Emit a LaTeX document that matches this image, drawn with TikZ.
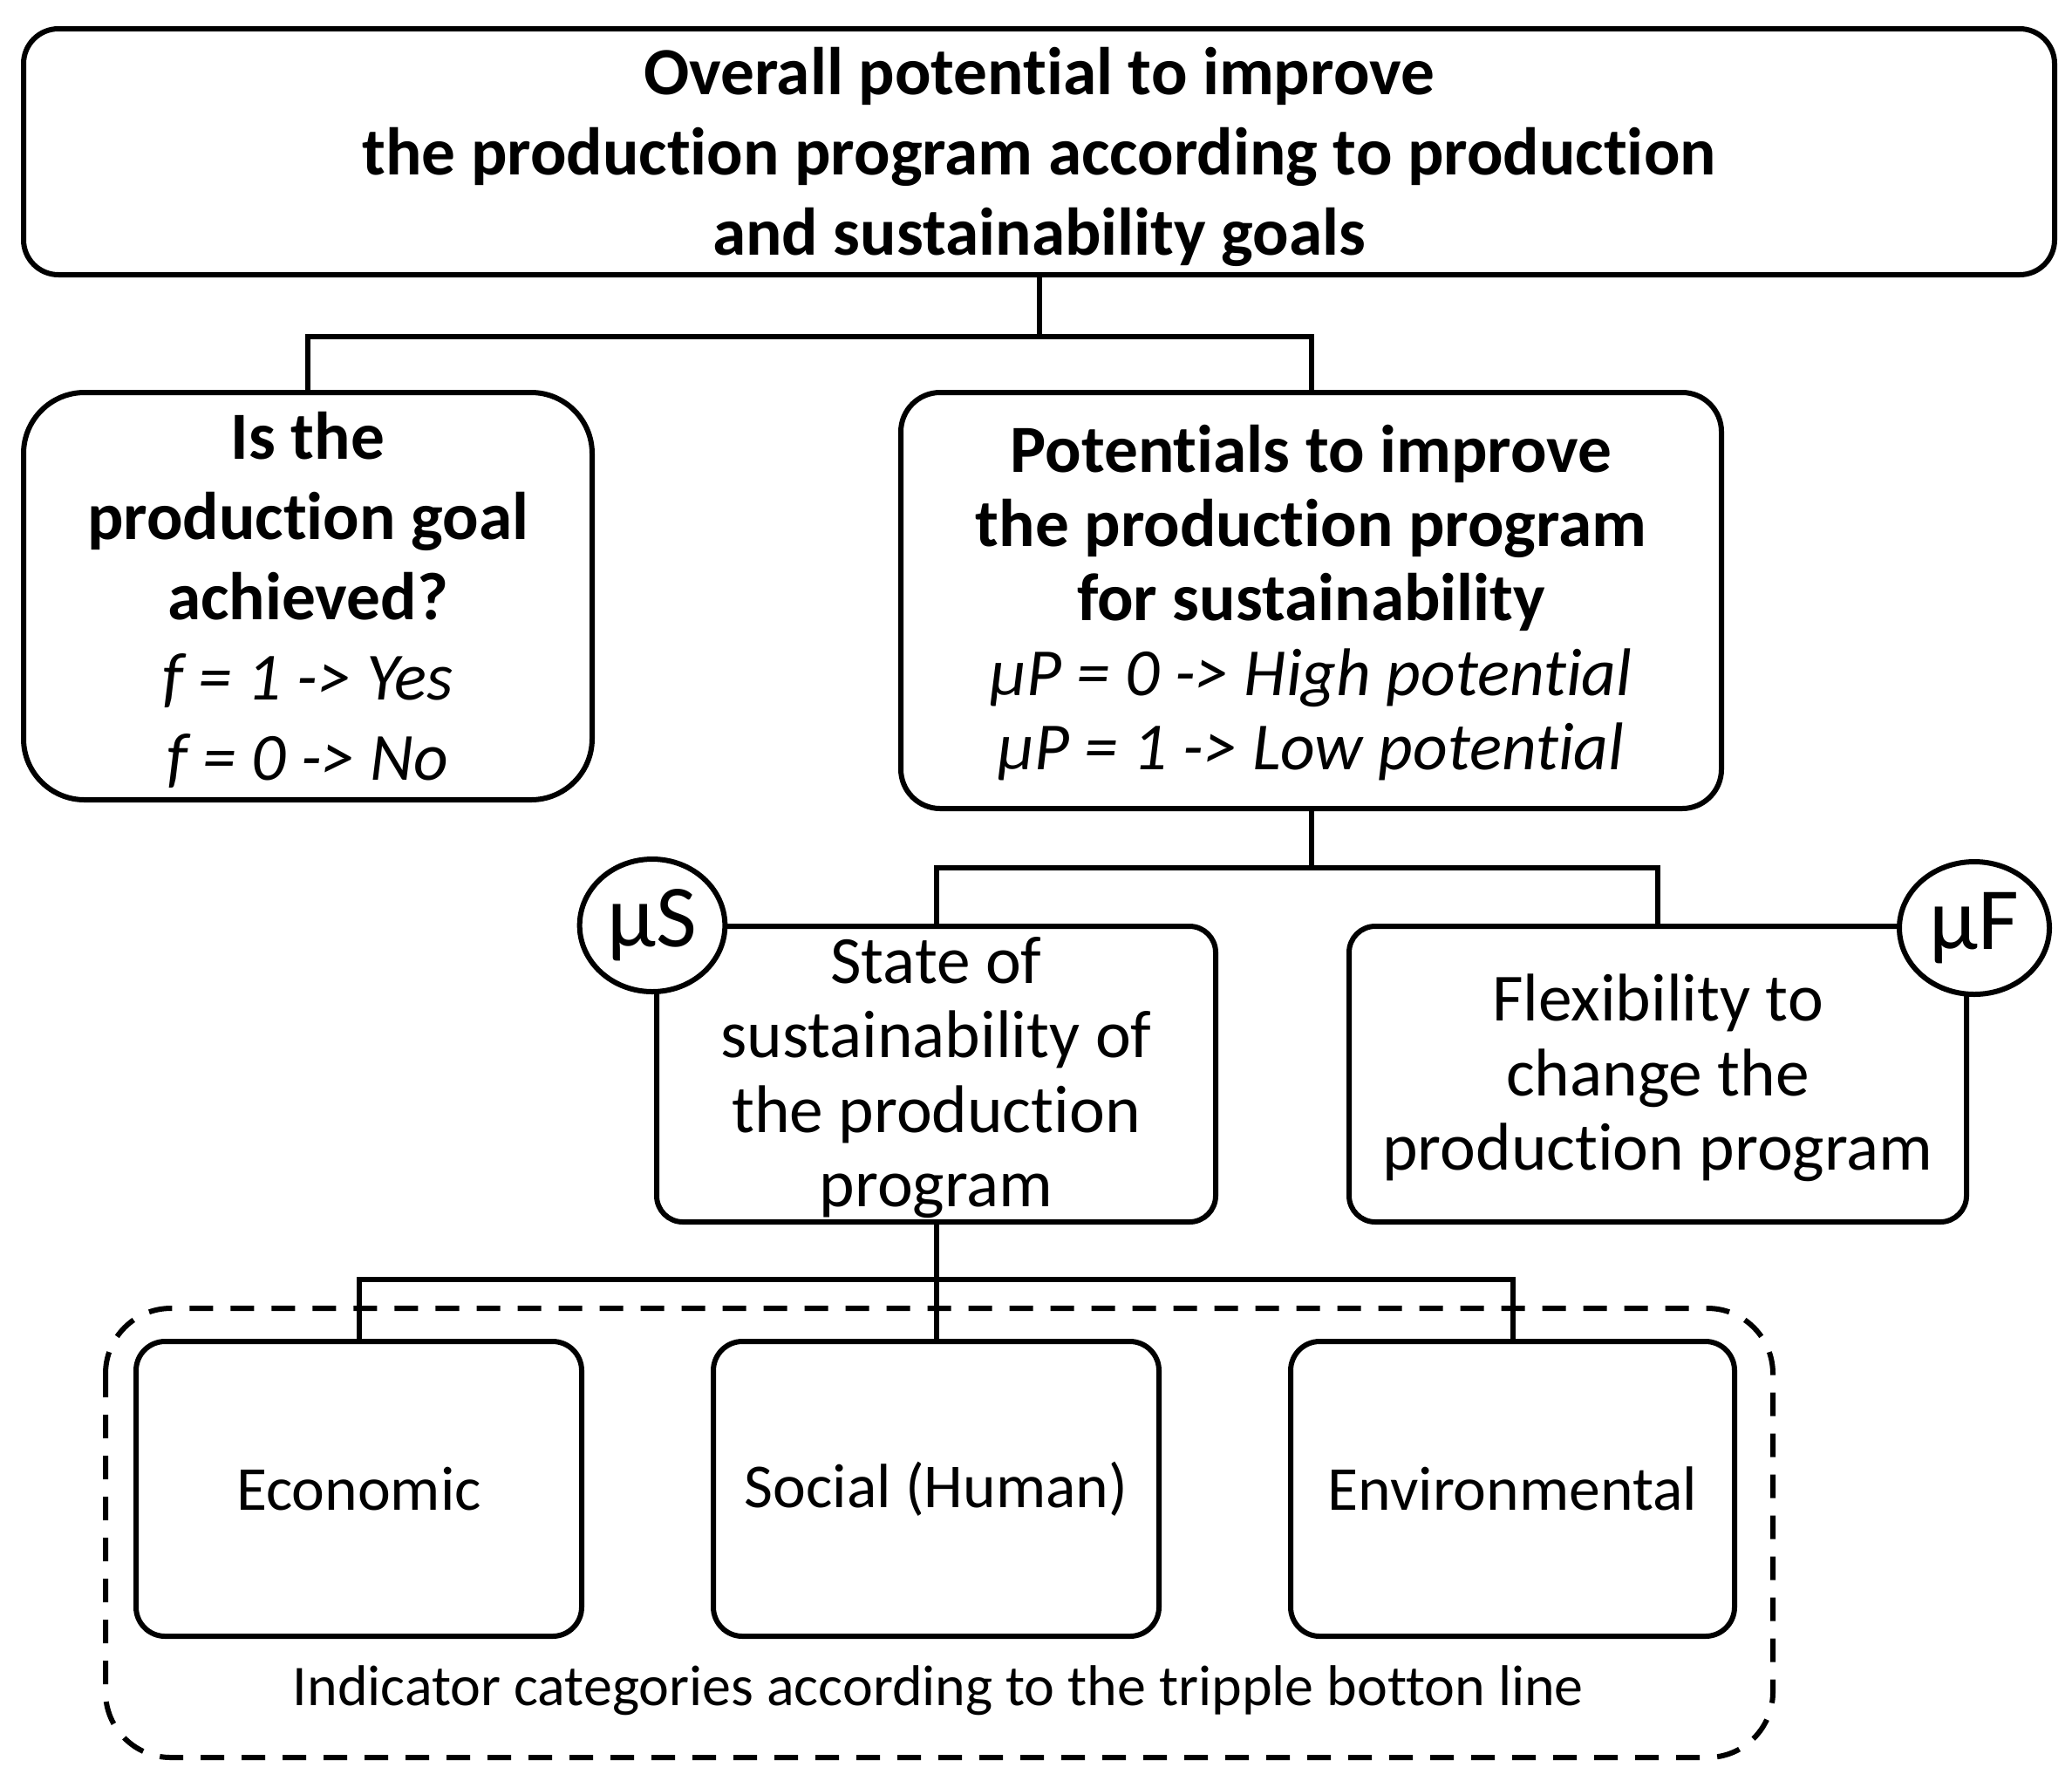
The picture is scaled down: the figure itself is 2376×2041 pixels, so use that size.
\documentclass[tikz,border=0pt]{standalone}
\usepackage{fontspec}
\setmainfont{Carlito}[Ligatures=NoCommon]
\usetikzlibrary{shapes.geometric}
\newcommand\ftop{\fontsize{23.2}{27.6}\selectfont}
\newcommand\fmid{\fontsize{23.2}{25.6}\selectfont}
\newcommand\fcat{\fontsize{21.5}{25}\selectfont}
\newcommand\flab{\fontsize{19.8}{23}\selectfont}
\newcommand\fmu{\fontsize{30.5}{34}\selectfont}
\begin{document}
\begin{tikzpicture}[x=0.3pt,y=-0.3pt,line width=1.8pt,
  box/.style={draw, rounded corners=#1, inner sep=0pt},
  txt/.style={inner sep=0pt, align=center},
  mucirc/.style={draw, fill=white, ellipse, inner sep=0pt, minimum width=50pt, minimum height=45.6pt, font=\fmu},
  dashbox/.style={draw, dash pattern=on 8.1pt off 6pt, rounded corners=22.5pt}]
\useasboundingbox (0,0) rectangle (2376,2041);
% dashed group
\draw[dashbox] (121,1500) rectangle (2033,2015);
% boxes
\node[box=12pt, minimum width=698.7pt, minimum height=84.6pt] (top) at (1191.5,174) {};
\node[txt, font=\ftop\bfseries] (topT) at ([yshift=-1.8pt]top.center)
  {Overall potential to improve\\the production program according to production\\and sustainability goals};
\node[box=21pt, minimum width=195.6pt, minimum height=140.1pt] (left) at (353,683.5) {};
\node[txt, font=\ftop] (leftT) at ([yshift=-1.2pt]left.center)
  {\textbf{Is the}\\\textbf{production goal}\\\textbf{achieved?}\\\textit{f = 1 -> Yes}\\\textit{f = 0 -> No}};
\node[box=13.5pt, minimum width=282.3pt, minimum height=143.1pt] (right) at (1503.5,688.5) {};
\node[txt, font=\fmid] (rightT) at ([yshift=-0.7pt]right.center)
  {\textbf{Potentials to improve}\\\textbf{the production program}\\\textbf{for sustainability}\\\textit{µP = 0 -> High potential}\\\textit{µP = 1 -> Low potential}};
\node[box=9pt, minimum width=192.3pt, minimum height=101.7pt] (state) at (1073.5,1231.5) {};
\node[txt, font=\fmid] (stateT) at ([yshift=-1.2pt]state.center)
  {State of\\sustainability of\\the production\\program};
\node[box=9pt, minimum width=212.4pt, minimum height=101.7pt] (flex) at (1901,1231.5) {};
\node[txt, font=\fmid] (flexT) at ([yshift=-1.3pt]flex.center)
  {Flexibility to\\change the\\production program};
\node[box=10pt, minimum width=153.3pt, minimum height=101.4pt, font=\fcat] (econ) at (411.5,1707) {Economic};
\node[box=10pt, minimum width=153.3pt, minimum height=101.4pt, font=\fcat] (social) at (1073.5,1707) {Social (Human)};
\node[box=10pt, minimum width=152.7pt, minimum height=101.4pt, font=\fcat] (env) at (1734.5,1707) {Environmental};
\node[font=\flab, inner sep=0pt] (lbl) at (1076,1938) {Indicator categories according to the tripple botton line};
% connectors
\coordinate (j1) at (1191.5,386);
\coordinate (j2) at (1503.5,995);
\coordinate (j3) at (1073.5,1467);
\draw (top.south) -- (j1);
\draw (left.north) |- (j1) -| (right.north);
\draw (right.south) -- (j2);
\draw (state.north) |- (j2) -| (flex.north);
\draw (state.south) -- (social.north);
\draw (econ.north) |- (j3) -| (env.north);
% mu circles
\node[mucirc] (muS) at (748,1061) {µS};
\node[mucirc, minimum width=51.6pt] (muF) at (2264,1064) {µF};
\end{tikzpicture}
\end{document}
